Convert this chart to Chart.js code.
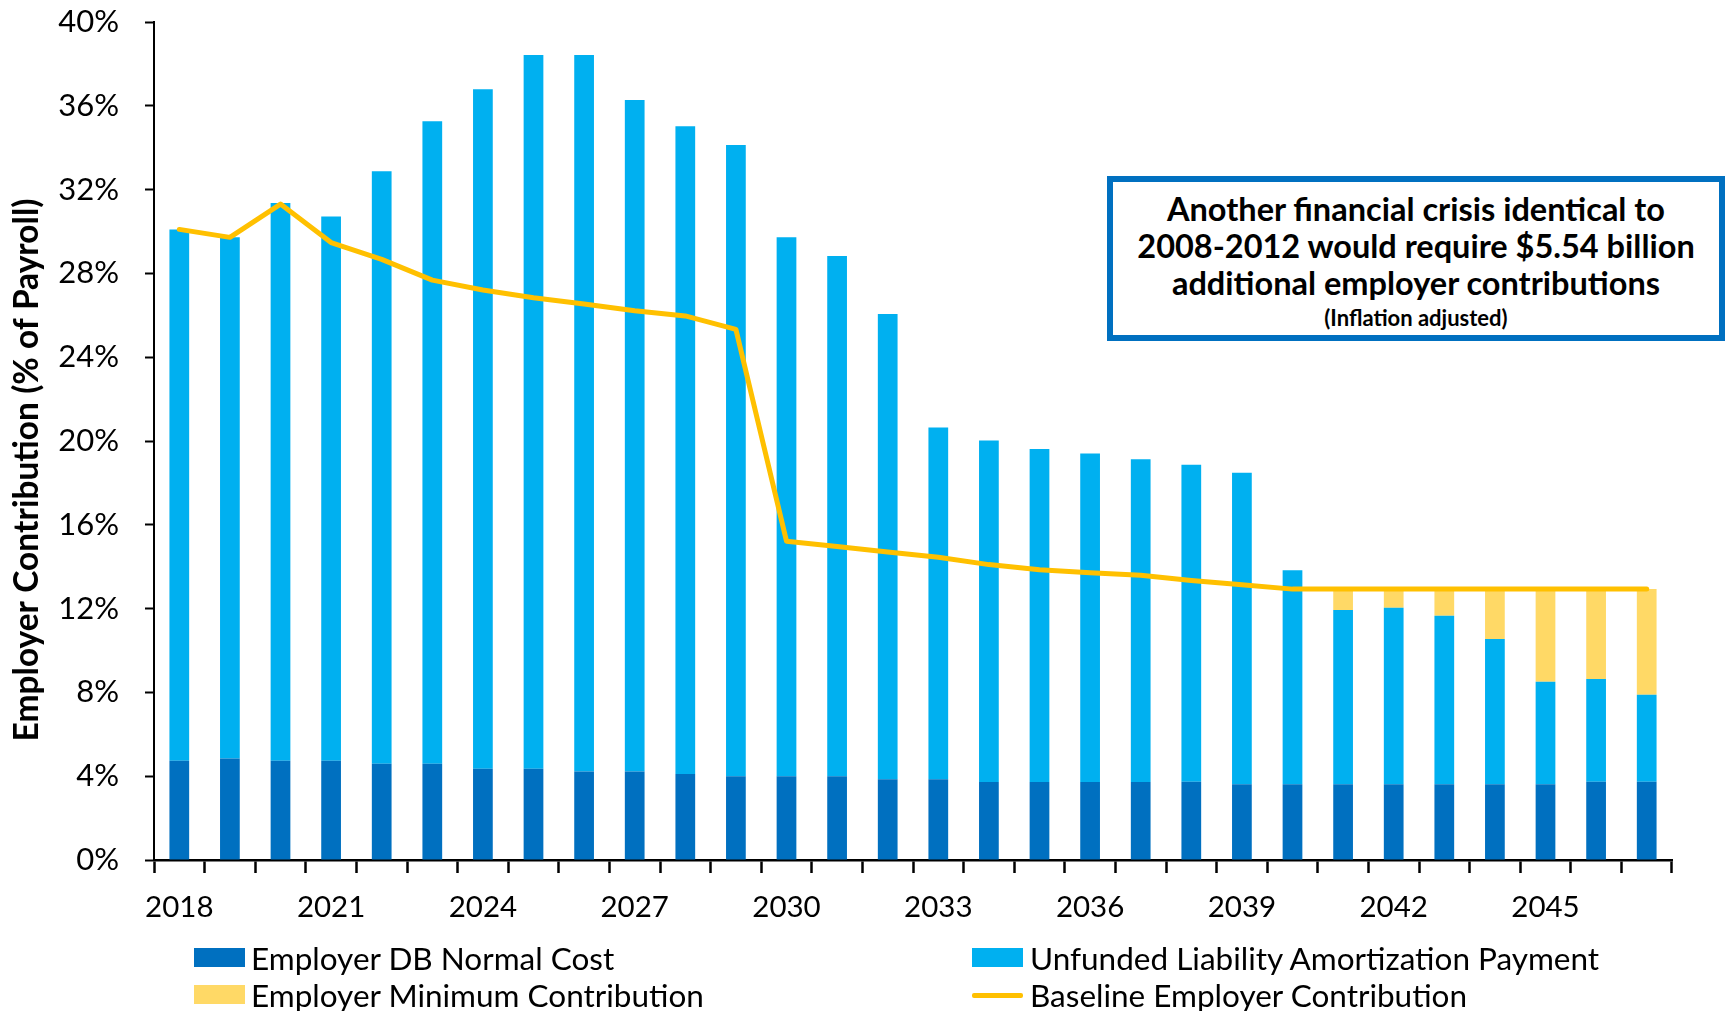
<!DOCTYPE html>
<html>
<head>
<meta charset="utf-8">
<script src="https://cdn.jsdelivr.net/npm/chart.js@4.4.1/dist/chart.umd.min.js"></script>
<style>
html,body{margin:0;padding:0;background:#fff;}
#wrap{position:relative;width:1727px;height:1011px;overflow:hidden;background:#fff;}
#chart{position:absolute;left:0;top:0;}
#note{position:absolute;left:1107px;top:176px;width:618px;height:165px;box-sizing:border-box;border:6px solid #0070C0;background:#fff;
  font-family:Lato,sans-serif;font-weight:bold;color:#000;text-align:center;padding-top:8px;}
#note .big{font-size:32.5px;line-height:37px;white-space:nowrap;}
#note .small{font-size:22px;line-height:33px;}
.lg{position:absolute;font-family:Lato,sans-serif;font-size:31.5px;color:#000;white-space:nowrap;line-height:36px;}
.sw{position:absolute;}
</style>
</head>
<body>
<div id="wrap">
  <canvas id="chart" width="1727" height="1011"></canvas>
  <div id="note">
    <div class="big">Another financial crisis identical to</div>
    <div class="big">2008-2012 would require $5.54 billion</div>
    <div class="big">additional employer contributions</div>
    <div class="small">(Inflation adjusted)</div>
  </div>
  <div id="legend"></div>
</div>
<script>
// ---- data ----
const years = ['2018','2019','2020','2021','2022','2023','2024','2025','2026','2027',
  '2028','2029','2030','2031','2032','2033','2034','2035','2036','2037',
  '2038','2039','2040','2041','2042','2043','2044','2045','2046','2047'];
const normalCost = [4.74,4.85,4.74,4.74,4.59,4.59,4.35,4.35,4.22,4.22,
  4.10,4.00,4.00,4.00,3.85,3.85,3.72,3.72,3.72,3.72,
  3.74,3.61,3.61,3.61,3.61,3.61,3.61,3.61,3.74,3.74];
const unfundedPayment = [25.36,24.87,26.62,25.98,28.28,30.67,32.44,34.07,34.20,32.06,
  30.92,30.13,25.72,24.83,22.21,16.79,16.30,15.90,15.68,15.41,
  15.13,14.88,10.22,8.32,8.43,8.05,6.94,4.90,4.90,4.15];
const minimumContribution = [0,0,0,0,0,0,0,0,0,0,
  0,0,0,0,0,0,0,0,0,0,
  0,0,0,1.00,0.89,1.27,2.38,4.42,4.29,5.04];
const baselineContribution = [30.10,29.72,31.31,29.47,28.67,27.68,27.21,26.84,26.54,26.22,
  25.97,25.33,15.22,14.96,14.70,14.45,14.10,13.85,13.71,13.59,
  13.34,13.14,12.93,12.93,12.93,12.93,12.93,12.93,12.93,12.93];
const seriesNames = ['Employer DB Normal Cost','Unfunded Liability Amortization Payment',
  'Employer Minimum Contribution','Baseline Employer Contribution'];
const yTicks = [0,4,8,12,16,20,24,28,32,36,40];
const yTitle = 'Employer Contribution (% of Payroll)';

const C_DARK = '#0070C0', C_LIGHT = '#00B0F0', C_MIN = '#FFD966', C_LINE = '#FFC000';
const FONT = 'Lato';

const yTitlePlugin = {
  id: 'yTitle',
  afterDraw(chart) {
    const {ctx, chartArea} = chart;
    ctx.save();
    ctx.translate(27.5, (chartArea.top + chartArea.bottom) / 2 + 29);
    ctx.rotate(-Math.PI / 2);
    ctx.font = 'bold 33.5px ' + FONT;
    ctx.fillStyle = '#000';
    ctx.textAlign = 'center';
    ctx.textBaseline = 'middle';
    ctx.fillText(yTitle, 0, 0);
    ctx.restore();
  }
};

const barCommon = {type:'bar', stack:'bars', barPercentage:0.39, categoryPercentage:1.0, borderWidth:0, order:1};

new Chart(document.getElementById('chart'), {
  data: {
    labels: years,
    datasets: [
      Object.assign({label: seriesNames[0], data: normalCost, backgroundColor: C_DARK}, barCommon),
      Object.assign({label: seriesNames[1], data: unfundedPayment, backgroundColor: C_LIGHT}, barCommon),
      Object.assign({label: seriesNames[2], data: minimumContribution, backgroundColor: C_MIN}, barCommon),
      {type:'line', label: seriesNames[3], data: baselineContribution, borderColor: C_LINE, borderWidth: 5,
       pointRadius: 0, fill: false, tension: 0, stack: 'line', order: 0, borderJoinStyle: 'round', borderCapStyle: 'round'}
    ]
  },
  options: {
    responsive: false,
    animation: false,
    layout: {padding: {top: 0, right: 55, bottom: 0, left: 0}},
    plugins: {legend: {display: false}, tooltip: {enabled: false}},
    scales: {
      x: {
        stacked: true,
        offset: true,
        grid: {display: true, drawOnChartArea: false, drawTicks: true, tickLength: 13, tickWidth: 2.5, tickColor: '#000', offset: true},
        border: {display: true, color: '#000', width: 2.5},
        ticks: {autoSkip: false, maxRotation: 0, minRotation: 0, color: '#000', font: {family: FONT, size: 29.5}, padding: 17,
          callback: (v, i) => (i % 3 === 0 ? years[i] : '')},
        afterFit: s => { s.height = 151; }
      },
      y: {
        stacked: true,
        min: 0, max: 40,
        afterBuildTicks: s => { s.ticks = yTicks.map(v => ({value: v})); },
        ticks: {color: '#000', font: {family: FONT, size: 31}, padding: 26, callback: v => v + '%'},
        grid: {display: true, drawOnChartArea: false, drawTicks: true, tickLength: 9, tickWidth: 2, tickColor: '#000'},
        border: {display: true, color: '#000', width: 2},
        afterFit: s => { s.width = 154; s.paddingTop = 22; s.paddingBottom = 18; }
      }
    }
  },
  plugins: [yTitlePlugin]
});

// ---- HTML legend ----
const legendPos = [
  {sx:194, sy:958, tx:251},
  {sx:972, sy:958, tx:1030},
  {sx:194, sy:995, tx:251},
  {sx:972, sy:995, tx:1030}
];
const swatch = [C_DARK, C_LIGHT, C_MIN, C_LINE];
const lg = document.getElementById('legend');
seriesNames.forEach((name, i) => {
  const p = legendPos[i];
  const sw = document.createElement('div');
  sw.className = 'sw';
  if (i === 3) {
    sw.style.cssText = `left:${p.sx}px;top:${p.sy-2.5}px;width:51px;height:5px;background:${swatch[i]};border-radius:2px;`;
  } else {
    sw.style.cssText = `left:${p.sx}px;top:${p.sy-10}px;width:51px;height:19px;background:${swatch[i]};`;
  }
  lg.appendChild(sw);
  const t = document.createElement('div');
  t.className = 'lg';
  t.style.left = p.tx + 'px';
  t.style.top = (p.sy - 18) + 'px';
  t.textContent = name;
  lg.appendChild(t);
});
</script>
</body>
</html>
